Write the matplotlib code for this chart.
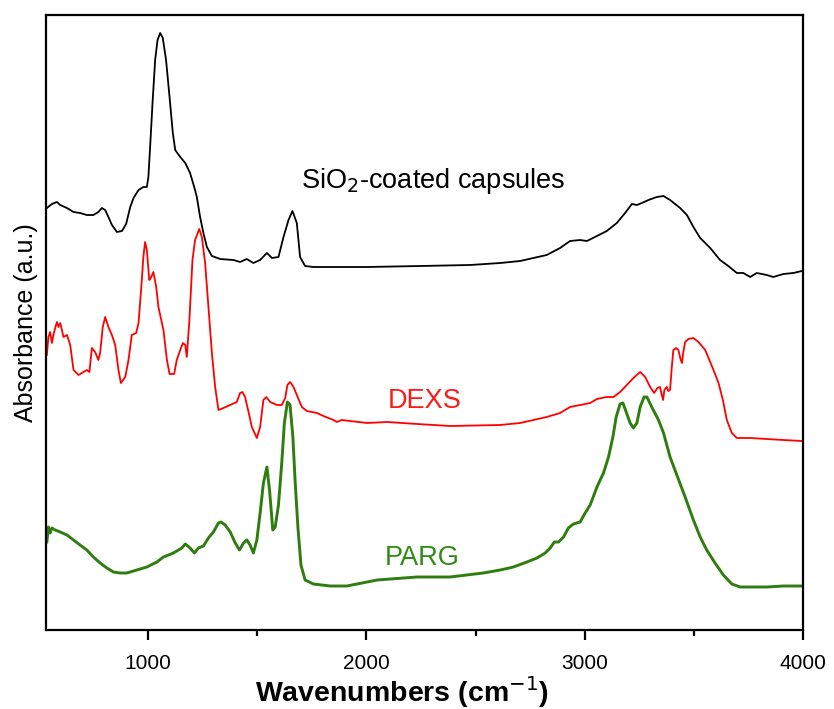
import matplotlib
matplotlib.use("Agg")
import matplotlib.pyplot as plt
from matplotlib.ticker import MultipleLocator

plt.rcParams['font.family'] = ['Liberation Sans', 'DejaVu Sans']

# ---- data (wavenumber in cm^-1, absorbance in arbitrary offset units) ----
sio2_wn = [536, 559, 582, 597, 628, 658, 688, 719, 749, 772, 788, 803, 818, 834, 857, 880, 899,
           918, 933, 956, 978, 994, 1001, 1009, 1020, 1032, 1043, 1055, 1067, 1082, 1098, 1113,
           1124, 1147, 1170, 1192, 1211, 1223, 1238, 1253, 1269, 1292, 1330, 1391, 1421, 1452,
           1482, 1513, 1544, 1567, 1597, 1620, 1643, 1661, 1681, 1696, 1719, 1757, 1880, 2003,
           2246, 2475, 2613, 2704, 2826, 2887, 2933, 2979, 3010, 3056, 3101, 3147, 3185, 3216,
           3239, 3262, 3292, 3330, 3361, 3391, 3437, 3468, 3498, 3529, 3575, 3620, 3658, 3697,
           3727, 3758, 3788, 3834, 3864, 3910, 3956, 3995]
sio2_ab = [4.22, 4.26, 4.28, 4.25, 4.22, 4.18, 4.17, 4.15, 4.15, 4.18, 4.22, 4.20, 4.13, 4.05,
           3.98, 3.99, 4.06, 4.23, 4.32, 4.40, 4.43, 4.43, 4.53, 4.83, 5.27, 5.70, 5.90, 5.97,
           5.92, 5.70, 5.33, 4.97, 4.80, 4.73, 4.67, 4.57, 4.43, 4.33, 4.13, 3.97, 3.83, 3.74,
           3.71, 3.70, 3.68, 3.71, 3.67, 3.70, 3.77, 3.72, 3.73, 3.93, 4.10, 4.19, 4.07, 3.73,
           3.64, 3.63, 3.63, 3.63, 3.64, 3.65, 3.67, 3.69, 3.75, 3.82, 3.89, 3.90, 3.89, 3.94,
           3.99, 4.07, 4.17, 4.26, 4.25, 4.27, 4.30, 4.33, 4.34, 4.30, 4.22, 4.15, 4.03, 3.92,
           3.82, 3.70, 3.64, 3.57, 3.57, 3.53, 3.57, 3.55, 3.53, 3.56, 3.57, 3.59]

dexs_wn = [536, 543, 551, 559, 566, 574, 582, 589, 597, 605, 612, 628, 643, 658, 681, 704, 719,
           731, 742, 757, 772, 780, 792, 803, 818, 834, 849, 864, 875, 895, 910, 925, 945, 956,
           971, 978, 986, 994, 1005, 1012, 1024, 1037, 1047, 1070, 1086, 1098, 1119, 1131, 1147,
           1159, 1170, 1177, 1189, 1203, 1215, 1234, 1246, 1261, 1276, 1292, 1307, 1322, 1345,
           1376, 1406, 1421, 1432, 1444, 1460, 1475, 1498, 1513, 1528, 1541, 1559, 1590, 1612,
           1628, 1638, 1650, 1666, 1681, 1704, 1727, 1773, 1803, 1849, 1864, 1887, 1925, 2003,
           2095, 2232, 2383, 2613, 2704, 2765, 2826, 2887, 2933, 2979, 3025, 3056, 3101, 3132,
           3162, 3193, 3223, 3254, 3277, 3300, 3318, 3333, 3345, 3353, 3359, 3365, 3376, 3383,
           3391, 3399, 3406, 3419, 3429, 3440, 3446, 3451, 3460, 3475, 3498, 3521, 3552, 3590,
           3613, 3633, 3651, 3674, 3697, 3758, 3834, 3910, 3995]
dexs_ab = [2.75, 2.93, 2.98, 2.87, 2.95, 3.02, 3.08, 3.03, 3.07, 3.00, 2.93, 2.95, 2.85, 2.60,
           2.55, 2.58, 2.60, 2.58, 2.82, 2.78, 2.70, 2.77, 3.03, 3.13, 3.03, 2.95, 2.85, 2.60,
           2.47, 2.53, 2.70, 2.95, 2.97, 3.07, 3.50, 3.73, 3.88, 3.80, 3.50, 3.52, 3.58, 3.43,
           3.23, 3.00, 2.70, 2.56, 2.56, 2.70, 2.80, 2.87, 2.85, 2.73, 3.10, 3.70, 3.90, 4.01,
           3.93, 3.67, 3.23, 2.77, 2.43, 2.20, 2.22, 2.25, 2.28, 2.37, 2.38, 2.33, 2.18, 2.03,
           1.92, 2.03, 2.30, 2.33, 2.28, 2.25, 2.25, 2.32, 2.45, 2.48, 2.43, 2.35, 2.23, 2.19,
           2.17, 2.14, 2.10, 2.08, 2.10, 2.09, 2.07, 2.08, 2.06, 2.04, 2.05, 2.07, 2.10, 2.13,
           2.17, 2.23, 2.25, 2.27, 2.31, 2.33, 2.33, 2.38, 2.45, 2.52, 2.58, 2.53, 2.43, 2.37,
           2.42, 2.43, 2.35, 2.30, 2.40, 2.43, 2.39, 2.40, 2.63, 2.80, 2.82, 2.80, 2.70, 2.67,
           2.77, 2.88, 2.91, 2.92, 2.88, 2.80, 2.60, 2.47, 2.30, 2.10, 1.97, 1.92, 1.92, 1.91,
           1.90, 1.89]

parg_wn = [536, 543, 551, 559, 574, 597, 628, 658, 688, 719, 749, 780, 811, 841, 872, 902, 948,
           994, 1040, 1070, 1116, 1154, 1170, 1192, 1212, 1230, 1253, 1276, 1299, 1322, 1334,
           1353, 1376, 1399, 1418, 1437, 1452, 1467, 1482, 1498, 1513, 1528, 1544, 1556, 1571,
           1582, 1597, 1612, 1624, 1638, 1650, 1663, 1673, 1686, 1700, 1719, 1757, 1834, 1910,
           1980, 2049, 2232, 2383, 2535, 2613, 2673, 2735, 2781, 2819, 2842, 2861, 2880, 2903,
           2925, 2948, 2979, 3002, 3025, 3056, 3086, 3109, 3129, 3144, 3162, 3175, 3190, 3208,
           3223, 3239, 3254, 3272, 3285, 3307, 3338, 3361, 3391, 3422, 3460, 3498, 3529, 3559,
           3597, 3635, 3674, 3712, 3773, 3834, 3910, 3995]
parg_ab = [0.88, 1.03, 0.97, 1.02, 1.00, 0.98, 0.95, 0.90, 0.85, 0.80, 0.73, 0.67, 0.62, 0.58,
           0.57, 0.57, 0.60, 0.63, 0.68, 0.73, 0.77, 0.82, 0.86, 0.82, 0.77, 0.82, 0.84, 0.92,
           0.98, 1.07, 1.08, 1.05, 0.98, 0.87, 0.80, 0.87, 0.90, 0.85, 0.77, 0.90, 1.17, 1.47,
           1.63, 1.40, 1.00, 1.03, 1.25, 1.67, 2.07, 2.28, 2.25, 1.93, 1.50, 1.03, 0.65, 0.50,
           0.46, 0.44, 0.44, 0.47, 0.50, 0.53, 0.53, 0.57, 0.60, 0.63, 0.68, 0.72, 0.77, 0.82,
           0.88, 0.88, 0.93, 1.02, 1.06, 1.08, 1.17, 1.25, 1.43, 1.57, 1.73, 1.93, 2.13, 2.26,
           2.27, 2.18, 2.07, 2.02, 2.07, 2.23, 2.33, 2.33, 2.23, 2.10, 1.97, 1.73, 1.55, 1.33,
           1.10, 0.93, 0.80, 0.67, 0.55, 0.46, 0.43, 0.43, 0.43, 0.44, 0.44]

xticks = [1000, 2000, 3000, 4000]

fig = plt.figure(figsize=(8.34, 7.09), dpi=100)
ax = fig.add_axes([46/834, 1 - 630/709, (803-46)/834, (630-15)/709])

ax.plot(sio2_wn, sio2_ab, color='black', lw=1.3)
ax.plot(dexs_wn, dexs_ab, color='#ff0000', lw=1.3)
ax.plot(parg_wn, parg_ab, color='#2e7d0e', lw=2.1)

ax.set_xlim(532, 4000)
ax.set_ylim(0, 6.15)
ax.set_yticks([])
ax.set_xticks(xticks)
ax.set_xticklabels([str(t) for t in xticks], fontsize=15)
ax.xaxis.set_minor_locator(MultipleLocator(500))
ax.tick_params(axis='x', which='major', direction='out', length=7, width=1.6, pad=10)
ax.tick_params(axis='x', which='minor', direction='out', length=4, width=1.6)
for s in ax.spines.values():
    s.set_linewidth(1.6)

ax.set_xlabel('Wavenumbers (cm$^{-1}$)', fontsize=20.5, fontweight='bold')
ax.xaxis.set_label_coords((402 - 46) / 757, -0.072)
ax.set_ylabel('Absorbance (a.u.)', fontsize=18, labelpad=6)

ax.text(0.337, 0.719, 'SiO$_2$-coated capsules', transform=ax.transAxes, fontsize=19.5,
        color='black', ha='left', va='baseline')
ax.text(0.452, 0.361, 'DEXS', transform=ax.transAxes, fontsize=19.5, color='#ff1a1a',
        ha='left', va='baseline')
ax.text(0.448, 0.106, 'PARG', transform=ax.transAxes, fontsize=19.5, color='#2e8b14',
        ha='left', va='baseline')

fig.savefig('out.png', dpi=100)
